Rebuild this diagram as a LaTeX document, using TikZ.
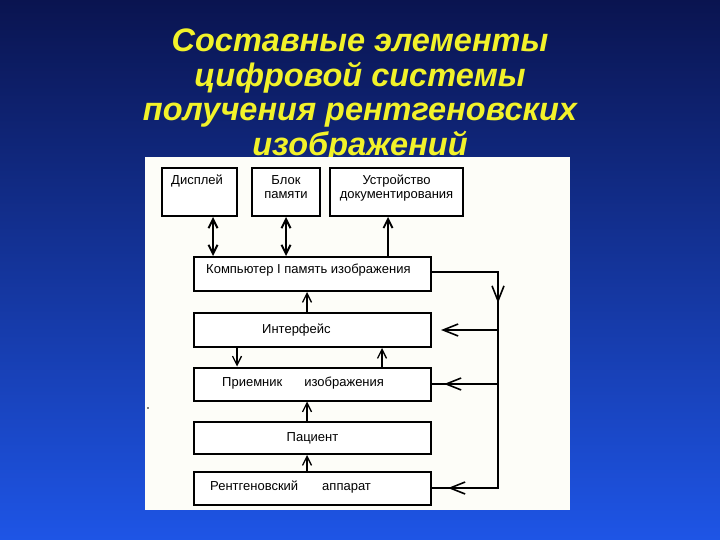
\documentclass[tikz,border=0pt]{standalone}
\usepackage{fontspec}
\setmainfont{Liberation Sans}
\usetikzlibrary{arrows.meta, positioning, calc}
\definecolor{navytop}{HTML}{0A1450}
\definecolor{navymid}{HTML}{1432A8}
\definecolor{navybot}{HTML}{1E55E6}
\definecolor{titleyellow}{HTML}{F2F22A}
\definecolor{panelwhite}{HTML}{FDFDF8}

\begin{document}
\begin{tikzpicture}[x=1pt, y=-1pt,
    box/.style={draw=black, line width=2pt, fill=white, inner sep=0pt, font=\fontsize{13}{14}\selectfont},
    tag/.style={inner sep=0pt, font=\fontsize{13}{14}\selectfont, align=center},
    link/.style={black, line width=1.3pt},
    barb/.style={-{Straight Barb[length=9pt, width=9pt]}},
    barbL/.style={-{Straight Barb[length=15pt, width=12pt]}},
    dbl/.style={{Straight Barb[length=9pt, width=9pt]}-{Straight Barb[length=9pt, width=9pt]}},
    heading/.style={inner sep=0pt, align=center, font=\fontsize{32.5}{34.5}\selectfont\bfseries\itshape}]
    % background and title
    \shade[top color=navytop, middle color=navymid, bottom color=navybot] (0,0) rectangle (720,540);
    \node[heading, text=titleyellow, anchor=north] (title) at (360,29)
        {Составные элементы\\цифровой системы\\получения рентгеновских\\изображений};
    \fill[panelwhite] (145,157) rectangle (570,510);
    \fill[black] (148,408) circle (0.8);
    % top row
    \node[box, minimum width=75pt, minimum height=48pt,
        label={[tag, anchor=north west, xshift=10pt, yshift=-8pt]north west:Дисплей}] (disp) at (199.5,192) {};
    \node[box, minimum width=68pt, minimum height=48pt,
        label={[tag, anchor=north, yshift=-8pt]north:Блок\\памяти}] (mem) at (286,192) {};
    \node[box, minimum width=133pt, minimum height=48pt,
        label={[tag, anchor=north, yshift=-8pt]north:Устройство\\документирования}] (doc) at (396.5,192) {};
    % main column
    \node[box, minimum width=237pt, minimum height=34pt,
        label={[tag, anchor=west, xshift=13pt, yshift=4pt]west:Компьютер I память изображения}] (comp) at (312.5,274) {};
    \node[box, minimum width=237pt, minimum height=34pt,
        label={[tag, anchor=west, xshift=69pt]west:Интерфейс}] (iface) at (312.5,330) {};
    \node[box, minimum width=237pt, minimum height=33pt,
        label={[tag, anchor=west, xshift=29pt, yshift=0.5pt]west:Приемник\hspace{22pt}изображения}] (rec) at (312.5,384) {};
    \node[box, minimum width=237pt, minimum height=32pt] (pat) at (312.5,438) {Пациент};
    \node[box, minimum width=237pt, minimum height=33pt,
        label={[tag, anchor=west, xshift=17pt, yshift=0.5pt]west:Рентгеновский\hspace{24pt}аппарат}] (xray) at (312.5,488) {};
    % links between blocks
    \draw[link, line width=2pt, dbl] ([xshift=13.5pt]disp.south) -- ([xshift=13.5pt]disp.south |- comp.north);
    \draw[link, line width=2pt, dbl] (mem.south) -- (mem.south |- comp.north);
    \draw[link, line width=1.8pt, barb] ([xshift=-8.5pt]doc.south |- comp.north) -- ([xshift=-8.5pt]doc.south);
    \draw[link, barb] ([xshift=-5.5pt]iface.north) -- ([xshift=-5.5pt]comp.south);
    \draw[link, barb] ([xshift=-75.5pt]iface.south) -- ([xshift=-75.5pt]rec.north);
    \draw[link, barb] ([xshift=69.5pt]rec.north) -- ([xshift=69.5pt]iface.south);
    \draw[link, barb] ([xshift=-5.5pt]pat.north) -- ([xshift=-5.5pt]rec.south);
    \draw[link, barb] ([xshift=-5.5pt]xray.north) -- ([xshift=-5.5pt]pat.south);
    % control loop on the right
    \draw[link, line width=1.6pt] ([yshift=2pt]comp.east) -- ++(66,0) coordinate (rt) -- (rt |- xray.east) -- (xray.east);
    \draw[link, line width=1.6pt, barbL] (rt) -- ++(0,31);
    \draw[link, line width=1.6pt, barbL, shorten >=9pt] (rt |- iface.east) -- (iface.east);
    \draw[link, line width=1.6pt] (rt |- rec.east) -- (rec.east);
    \draw[link, line width=1.6pt, barbL, shorten >=12pt] (rt |- rec.east) -- (rec.east);
    \draw[link, line width=1.6pt, barbL, shorten >=16pt] (rt |- xray.east) -- (xray.east);
\end{tikzpicture}
\end{document}
